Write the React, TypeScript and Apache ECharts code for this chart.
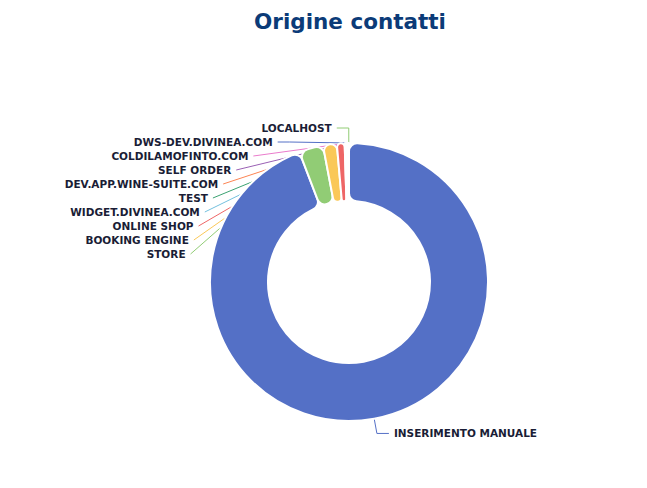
import React, { useEffect, useRef } from "react";
import * as echarts from "echarts";

const categories = [
  "INSERIMENTO MANUALE",
  "STORE",
  "BOOKING ENGINE",
  "ONLINE SHOP",
  "WIDGET.DIVINEA.COM",
  "TEST",
  "DEV.APP.WINE-SUITE.COM",
  "SELF ORDER",
  "COLDILAMOFINTO.COM",
  "DWS-DEV.DIVINEA.COM",
  "LOCALHOST",
];
const values = [1884, 56, 32, 18, 3, 2, 1, 1, 1, 1, 1];
const palette = [
  "#5470c6",
  "#91cc75",
  "#fac858",
  "#ee6666",
  "#73c0de",
  "#3ba272",
  "#fc8452",
  "#9a60b4",
  "#ea7ccc",
];
const titleText = "Origine contatti";

export default function App() {
  const ref = useRef<HTMLDivElement>(null);
  useEffect(() => {
    if (!ref.current) return;
    const chart = echarts.init(ref.current, undefined, { renderer: "svg" });
    chart.setOption({
      animation: false,
      color: palette,
      title: {
        text: titleText,
        left: 345,
        top: 5,
        textAlign: "center",
        textStyle: {
          fontFamily: "DejaVu Sans",
          fontWeight: "bold",
          fontSize: 21.5,
          color: "#0b3b78",
        },
      },
      series: [
        {
          type: "pie",
          center: [349, 282],
          radius: [81, 139],
          startAngle: 90,
          avoidLabelOverlap: true,
          itemStyle: { borderRadius: 8, borderColor: "#fff", borderWidth: 2 },
          label: {
            show: true,
            formatter: "{b}",
            fontFamily: "DejaVu Sans",
            fontWeight: "bold",
            fontSize: 10.5,
            lineHeight: 12,
            color: "#1a1d36",
          },
          labelLine: { show: true, length: 15, length2: 12 },
          data: categories.map((name, i) => ({ name, value: values[i] })),
        },
      ],
    });
    return () => chart.dispose();
  }, []);
  return (
    <div
      ref={ref}
      style={{ position: "absolute", left: 0, top: 0, width: 647, height: 488 }}
    />
  );
}
